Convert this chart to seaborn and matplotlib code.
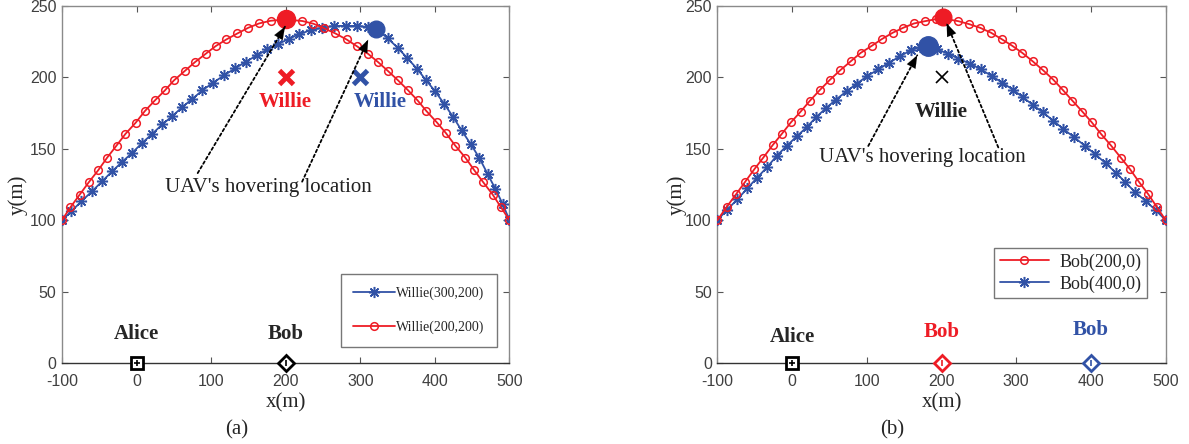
import matplotlib
matplotlib.use("Agg")
import matplotlib.pyplot as plt
import seaborn as sns
import numpy as np

# ---------------- data ----------------
# panel (a): UAV trajectories for two Willie positions
a_w200_x = [-100, -88.6, -76.1, -64.0, -51.4, -39.3, -26.8, -14.8, -1.3, 11.1, 24.6, 38.0, 50.1, 64.4,
            78.3, 92.6, 106.0, 120.4, 135.2, 149.9, 164.2, 179.9, 200.0, 222.4, 237.2, 251.4, 266.2,
            281.5, 295.3, 310.5, 323.9, 337.3, 350.7, 364.2, 376.8, 388.7, 402.3, 414.8, 427.2, 440.7,
            452.8, 464.8, 477.4, 488.6, 500]
a_w200_y = [100, 109.1, 118.0, 126.6, 135.0, 143.9, 152.3, 160.5, 168.2, 176.4, 183.9, 190.9, 197.9, 204.4,
            210.7, 216.5, 221.9, 226.6, 230.8, 234.8, 237.8, 239.7, 240.6, 239.5, 237.6, 234.4, 230.9,
            226.6, 221.9, 216.5, 210.7, 204.4, 197.9, 190.9, 183.9, 176.4, 168.7, 161.0, 152.3, 143.9,
            135.0, 126.6, 118.0, 109.1, 100]
a_w300_x = [-100, -87.2, -73.8, -59.5, -46.0, -32.6, -19.2, -5.8, 7.7, 21.1, 34.5, 47.9, 61.3, 74.8, 88.2,
            102.4, 117.2, 132.0, 146.3, 161.1, 175.4, 190.2, 204.4, 218.0, 233.6, 249.3, 264.8, 280.5,
            295.3, 309.7, 322.0, 336.5, 349.9, 362.4, 375.8, 387.9, 400.0, 412.5, 424.6, 435.8, 448.3,
            459.5, 470.7, 480.9, 490.9, 500]
a_w300_y = [100, 106.3, 113.3, 120.3, 127.3, 134.3, 140.9, 147.2, 154.2, 160.5, 167.1, 172.9, 179.2, 185.0,
            190.9, 196.2, 201.4, 206.3, 210.9, 215.4, 219.6, 223.5, 227.0, 230.3, 233.1, 234.9, 236.1,
            236.1, 236.1, 235.4, 233.8, 227.5, 220.9, 213.9, 206.2, 198.2, 190.5, 181.5, 172.2, 162.9,
            153.1, 143.7, 132.4, 122.1, 111.4, 100]

# panel (b): UAV trajectories for two Bob positions
b_b200_x = [-100, -87.4, -75.0, -62.9, -50.5, -38.4, -25.9, -13.8, -1.4, 11.6, 24.1, 37.4, 50.8, 64.2,
            78.5, 91.9, 106.6, 120.0, 134.7, 148.9, 163.2, 177.9, 192.7, 207.3, 222.5, 237.2, 251.5,
            266.3, 280.6, 294.8, 308.1, 322.0, 336.2, 349.6, 362.2, 375.0, 388.4, 401.0, 413.5, 426.4,
            439.8, 452.3, 464.3, 476.8, 488.0, 500]
b_b200_y = [100, 109.4, 118.1, 126.8, 135.7, 143.9, 152.6, 160.4, 168.6, 176.1, 183.8, 191.3, 198.4, 204.9,
            211.3, 217.2, 222.1, 226.8, 231.3, 234.8, 237.8, 239.4, 240.8, 240.8, 239.4, 237.3, 234.8,
            231.3, 226.8, 222.1, 217.2, 211.3, 204.9, 198.4, 191.3, 183.8, 176.1, 168.6, 160.4, 152.6,
            143.9, 135.7, 126.8, 118.1, 109.4, 100]
b_b400_x = [-100, -86.6, -73.2, -59.9, -46.5, -33.1, -20.5, -7.1, 6.2, 19.6, 32.1, 45.5, 58.8, 73.2, 86.5,
            100.7, 115.4, 130.2, 144.5, 158.8, 171.0, 182.4, 193.6, 208.3, 222.5, 238.2, 252.9, 267.2,
            281.4, 295.3, 308.7, 322.1, 335.4, 349.6, 363.0, 377.7, 392.0, 405.4, 419.7, 433.1, 445.6,
            459.0, 473.3, 486.7, 500]
b_b400_y = [100, 107.5, 114.6, 122.3, 129.9, 137.3, 145.1, 152.1, 158.7, 165.1, 172.1, 178.5, 184.5, 190.4,
            195.6, 201.0, 205.6, 210.4, 214.8, 219.0, 221.3, 222.0, 219.7, 216.7, 213.2, 209.6, 205.6,
            201.0, 196.3, 191.5, 186.2, 180.8, 175.6, 169.7, 163.9, 158.0, 152.1, 146.3, 139.9, 133.4,
            126.8, 119.7, 113.4, 107.0, 100]

# hovering locations
a_hover_red = (200, 240.6)
a_hover_blue = (321, 234.0)
b_hover_red = (202, 242.0)
b_hover_blue = (182, 222.0)

# node positions
alice = (0, 0)
a_bob = (200, 0)
a_willie_red = (200, 200)
a_willie_blue = (300, 200)
b_bob_red = (200, 0)
b_bob_blue = (400, 0)
b_willie = (200, 200)

x_ticks = [-100, 0, 100, 200, 300, 400, 500]
y_ticks = [0, 50, 100, 150, 200, 250]

# ---------------- style ----------------
sns.set_style("ticks")
plt.rcParams['font.family'] = ['Liberation Serif', 'DejaVu Serif']
plt.rcParams['axes.unicode_minus'] = False

RED = '#EE1C25'
BLUE = '#3152A6'
SERIF = 'Liberation Serif'
SANS = 'Liberation Sans'

fig = plt.figure(figsize=(11.89, 4.44), dpi=100)
ax_a = fig.add_axes([0.0521, 0.1824, 0.3764, 0.8040])
ax_b = fig.add_axes([0.6033, 0.1824, 0.3771, 0.8040])

asterisk = (8, 2, 0)


def style_axes(ax):
    ax.set_xlim(-100, 500)
    ax.set_ylim(0, 250)
    ax.set_xticks(x_ticks)
    ax.set_yticks(y_ticks)
    ax.tick_params(direction='in', length=4, width=0.8, top=True, right=True,
                   labelsize=11.5, labelcolor='#404040', color='#555555')
    ax.tick_params(axis='x', pad=8)
    ax.tick_params(axis='y', pad=4)
    for lab in ax.get_xticklabels() + ax.get_yticklabels():
        lab.set_family(SANS)
    for s in ['left', 'top', 'right']:
        ax.spines[s].set_color('#8a8a8a')
        ax.spines[s].set_linewidth(1.0)
    ax.spines['bottom'].set_color('#333333')
    ax.spines['bottom'].set_linewidth(1.0)
    ax.set_xlabel('x(m)', fontsize=15, family=SERIF, labelpad=1)
    ax.set_ylabel('y(m)', fontsize=15, family=SERIF)


def dotted_arrow(ax, tail, tip):
    ax.annotate('', xy=tip, xytext=tail,
                arrowprops=dict(arrowstyle='-', linestyle=(0, (1.5, 1.5)), color='k', lw=1.3,
                                shrinkA=0, shrinkB=0), zorder=6)
    tx, ty = tail
    hx, hy = tip
    f = 0.08
    start = (hx - (hx - tx) * f, hy - (hy - ty) * f)
    ax.annotate('', xy=tip, xytext=start,
                arrowprops=dict(arrowstyle='-|>,head_length=0.9,head_width=0.35', color='k', lw=0.1,
                                shrinkA=0, shrinkB=0, fc='k'), zorder=6)


def node(ax, pos, marker, color, ms, extra=None):
    ax.plot([pos[0]], [pos[1]], marker=marker, ms=ms, mfc='white', mec=color, mew=2,
            ls='none', clip_on=False, zorder=8)
    if extra:
        ax.plot([pos[0]], [pos[1]], marker=extra, ms=ms * 0.55, mec=color, mew=1.2,
                ls='none', clip_on=False, zorder=9)


# ---------------- panel (a) ----------------
ax = ax_a
sns.lineplot(x=a_w300_x, y=a_w300_y, ax=ax, color=BLUE, lw=1.3, marker=asterisk, ms=8, mew=1.1,
             mec=BLUE, estimator=None, sort=False, label='Willie(300,200)', zorder=3)
sns.lineplot(x=a_w200_x, y=a_w200_y, ax=ax, color=RED, lw=1.3, marker='o', ms=5.5, mew=1.1,
             mfc='none', mec=RED, estimator=None, sort=False, label='Willie(200,200)', zorder=4)
ax.plot(*a_hover_red, marker='o', ms=13, color=RED, zorder=5)
ax.plot(*a_hover_blue, marker='o', ms=12, color=BLUE, zorder=5)
ax.plot(*a_willie_red, marker='x', ms=10, mew=3.5, color=RED, zorder=5)
ax.plot(*a_willie_blue, marker='x', ms=10, mew=3.5, color=BLUE, zorder=5)
ax.text(199, 183, 'Willie', color=RED, fontsize=15, fontweight='bold', family=SERIF,
        ha='center', va='center')
ax.text(327, 183, 'Willie', color=BLUE, fontsize=15, fontweight='bold', family=SERIF,
        ha='center', va='center')
ax.text(177, 123, "UAV's hovering location", fontsize=15, family=SERIF, ha='center', va='center',
        color='#222222')
dotted_arrow(ax, (82, 133), (199, 235.5))
dotted_arrow(ax, (222, 127), (310.5, 226.4))
node(ax, alice, 's', 'k', 9, extra='+')
node(ax, a_bob, 'D', 'k', 8, extra='|')
ax.text(0, 20, 'Alice', fontsize=15, fontweight='bold', family=SERIF, ha='center', va='center')
ax.text(200, 20, 'Bob', fontsize=15, fontweight='bold', family=SERIF, ha='center', va='center')
style_axes(ax)
leg = ax.legend(loc='lower right', bbox_to_anchor=(0.972, 0.045), prop={'family': SERIF, 'size': 10},
                frameon=True, fancybox=False, edgecolor='#555555', handlelength=3.0,
                labelspacing=1.5, borderpad=0.9, handletextpad=0.1, borderaxespad=0)
leg.get_frame().set_linewidth(1.0)
ax.yaxis.set_label_coords(-0.076, 0.47)
ax.xaxis.set_label_coords(0.5, -0.085)

# ---------------- panel (b) ----------------
ax = ax_b
sns.lineplot(x=b_b200_x, y=b_b200_y, ax=ax, color=RED, lw=1.3, marker='o', ms=5.5, mew=1.1,
             mfc='none', mec=RED, estimator=None, sort=False, label='Bob(200,0)', zorder=4)
sns.lineplot(x=b_b400_x, y=b_b400_y, ax=ax, color=BLUE, lw=1.3, marker=asterisk, ms=8, mew=1.1,
             mec=BLUE, estimator=None, sort=False, label='Bob(400,0)', zorder=3)
ax.plot(*b_hover_red, marker='o', ms=12, color=RED, zorder=5)
ax.plot(*b_hover_blue, marker='o', ms=14, color=BLUE, zorder=5)
ax.plot(*b_willie, marker='x', ms=9, mew=1.2, color='k', zorder=5)
ax.text(200, 176, 'Willie', color='#222222', fontsize=15, fontweight='bold', family=SERIF,
        ha='center', va='center')
ax.text(174, 144, "UAV's hovering location", fontsize=15, family=SERIF, ha='center', va='center',
        color='#222222')
dotted_arrow(ax, (102, 152), (167.5, 215.5))
dotted_arrow(ax, (276, 151), (207, 237.8))
node(ax, alice, 's', 'k', 9, extra='+')
node(ax, b_bob_red, 'D', RED, 8, extra='|')
node(ax, b_bob_blue, 'D', BLUE, 8, extra='|')
ax.text(0, 18, 'Alice', fontsize=15, fontweight='bold', family=SERIF, ha='center', va='center')
ax.text(200, 22, 'Bob', color=RED, fontsize=15, fontweight='bold', family=SERIF, ha='center',
        va='center')
ax.text(400, 23, 'Bob', color=BLUE, fontsize=15, fontweight='bold', family=SERIF, ha='center',
        va='center')
style_axes(ax)
leg = ax.legend(loc='lower right', bbox_to_anchor=(0.958, 0.182), prop={'family': SERIF, 'size': 13},
                frameon=True, fancybox=False, edgecolor='#555555', handlelength=2.7,
                labelspacing=0.25, borderpad=0.3, handletextpad=0.6, borderaxespad=0)
leg.get_frame().set_linewidth(1.0)
ax.yaxis.set_label_coords(-0.068, 0.47)
ax.xaxis.set_label_coords(0.5, -0.085)

fig.text(0.1993, 0.0315, '(a)', fontsize=15, family=SERIF, ha='center', va='center')
fig.text(0.7502, 0.0315, '(b)', fontsize=15, family=SERIF, ha='center', va='center')

fig.savefig('out.png', dpi=100)
